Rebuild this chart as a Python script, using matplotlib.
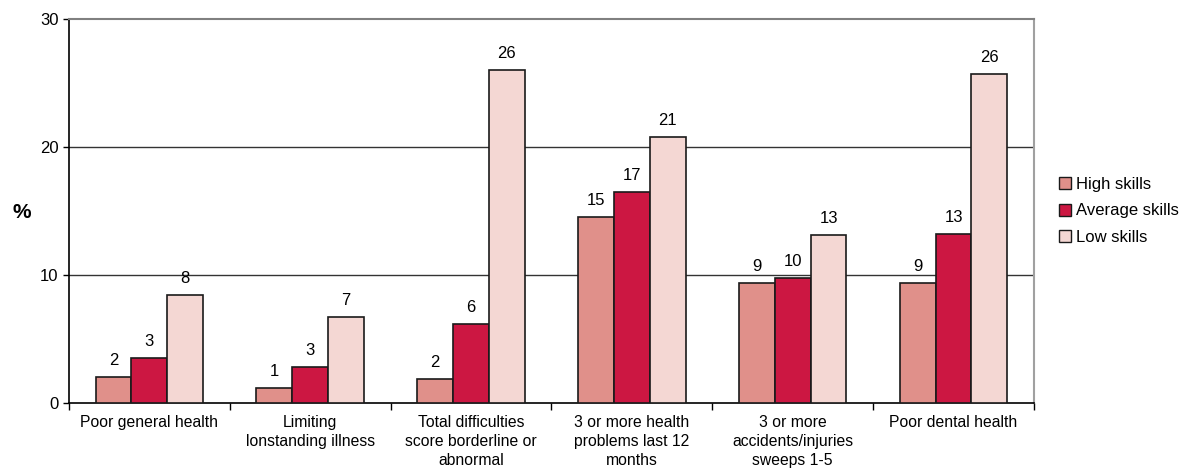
import matplotlib.pyplot as plt
import numpy as np

plt.rcParams['font.family'] = ['Liberation Sans', 'DejaVu Sans']

# data
categories = ['Poor general health', 'Limiting\nlonstanding illness',
              'Total difficulties\nscore borderline or\nabnormal',
              '3 or more health\nproblems last 12\nmonths',
              '3 or more\naccidents/injuries\nsweeps 1-5',
              'Poor dental health']
series = ['High skills', 'Average skills', 'Low skills']
high = [2.0, 1.2, 1.9, 14.5, 9.4, 9.4]
average = [3.5, 2.8, 6.2, 16.5, 9.8, 13.2]
low = [8.4, 6.7, 26.0, 20.8, 13.1, 25.7]
high_labels = [2, 1, 2, 15, 9, 9]
average_labels = [3, 3, 6, 17, 10, 13]
low_labels = [8, 7, 26, 21, 13, 26]
colors = ['#E0908A', '#CC1742', '#F4D7D3']

fig = plt.figure(figsize=(11.83, 4.73), dpi=100)
ax = fig.add_axes([0.0583, 0.148, 0.8157, 0.812])

x = np.arange(len(categories))
w = 0.223
groups = zip([high, average, low], [high_labels, average_labels, low_labels], series, colors)
for i, (vals, labs, lab, col) in enumerate(groups):
    pos = x + (i - 1) * w
    ax.bar(pos, vals, w, color=col, edgecolor='#1a1a1a', linewidth=1.2, label=lab, zorder=3)
    for p, v, t in zip(pos, vals, labs):
        ax.text(p, v + 0.7, str(t), ha='center', va='bottom', fontsize=12)

ax.set_xlim(-0.5, len(categories) - 0.5)
ax.set_ylim(0, 30)
ax.set_yticks([0, 10, 20, 30])
ax.tick_params(axis='y', labelsize=12, length=4, width=1)
ax.set_xticks(np.arange(len(categories) + 1) - 0.5, minor=False)
ax.set_xticklabels([])
ax.tick_params(axis='x', length=5, width=1, direction='out')
ax.set_xticks(x, minor=True)
ax.set_xticklabels(categories, minor=True, fontsize=11.3, linespacing=1.3)
ax.tick_params(axis='x', which='minor', length=0, pad=9)

for y in [10, 20]:
    ax.axhline(y, color='#333333', linewidth=1.0, zorder=1)
ax.spines['top'].set_color('#808080')
ax.spines['right'].set_color('#a0a0a0')
ax.spines['top'].set_linewidth(1.5)
ax.spines['right'].set_linewidth(1.5)
ax.spines['left'].set_linewidth(1.2)
ax.spines['bottom'].set_linewidth(1.2)

fig.text(0.018, 0.55, '%', fontsize=15, fontweight='bold', ha='center', va='center')

leg = ax.legend(loc='center left', bbox_to_anchor=(1.01, 0.50), frameon=False,
                fontsize=12, handlelength=0.75, handleheight=0.75, handletextpad=0.3,
                labelspacing=0.7)
for h in leg.legend_handles:
    h.set_linewidth(1.0)

fig.savefig('out.png', dpi=100)
